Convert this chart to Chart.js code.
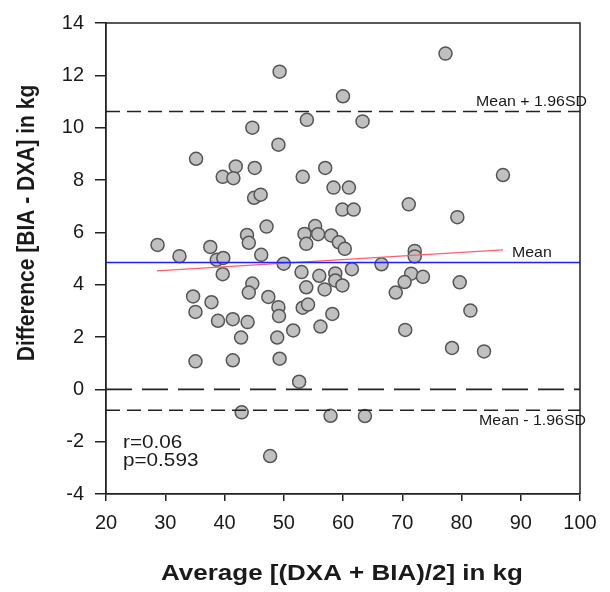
<!DOCTYPE html>
<html>
<head>
<meta charset="utf-8">
<script src="https://cdn.jsdelivr.net/npm/chart.js@4.4.1/dist/chart.umd.min.js"></script>
<style>
  html, body { margin: 0; padding: 0; background: #fff; }
  #wrap { width: 610px; height: 592px; position: relative; }
</style>
</head>
<body>
<div id="wrap"><canvas id="chart"></canvas></div>
<script>
// Bland-Altman data
const avgKg = [
  49.3, 77.3, 60.0, 53.9, 63.3, 44.7, 49.1, 35.2, 41.9, 45.1,
  39.7, 41.5, 53.2, 57.0, 58.4, 61.0, 87.0, 59.9, 61.8, 45.0,
  46.1, 71.1, 79.3, 47.1, 55.3, 53.5, 55.8, 58.0, 53.8, 59.3,
  60.3, 28.7, 32.4, 37.6, 43.8, 44.1, 46.2, 38.7, 39.8, 72.1,
  72.1, 50.0, 66.5, 61.5, 39.7, 53.0, 56.0, 58.7, 58.7, 59.9,
  53.8, 56.9, 71.5, 73.5, 70.4, 68.9, 79.7, 81.5, 70.5, 78.4,
  83.8, 44.7, 44.1, 34.7, 35.1, 37.8, 38.9, 41.4, 43.9, 47.4,
  49.1, 49.2, 53.2, 54.1, 58.2, 56.2, 51.6, 42.8, 48.9, 35.1,
  41.4, 49.3, 52.6, 42.9, 57.9, 63.7, 47.7
];
const diffKg = [
  12.14, 12.83, 11.2, 10.3, 10.24, 10.0, 9.35, 8.81, 8.52, 8.46,
  8.12, 8.07, 8.12, 8.46, 7.71, 7.71, 8.19, 6.87, 6.87, 7.32,
  7.44, 7.07, 6.58, 6.22, 6.24, 5.94, 5.93, 5.88, 5.56, 5.62,
  5.37, 5.52, 5.09, 5.44, 5.90, 5.60, 5.14, 4.95, 5.02, 5.29,
  5.08, 4.80, 4.78, 4.59, 4.40, 4.48, 4.34, 4.43, 4.16, 3.97,
  3.90, 3.82, 4.42, 4.30, 4.10, 3.70, 4.09, 3.01, 2.27, 1.58,
  1.45, 4.04, 3.70, 3.55, 2.96, 3.33, 2.62, 2.68, 2.57, 3.53,
  3.14, 2.80, 3.12, 3.24, 2.88, 2.40, 2.25, 1.98, 1.98, 1.07,
  1.11, 1.17, 0.29, -0.88, -1.01, -1.02, -2.55
];

const xRange = [20, 100];
const yRange = [-4, 14];
const meanDiff = 4.85;
const upperLoA = 10.62;
const lowerLoA = -0.80;
const regX = [28.6, 87.0];
const regY = [4.53, 5.33];

const statR = 'r=0.06';
const statP = 'p=0.593';
const xTitle = 'Average [(DXA + BIA)/2] in kg';
const yTitle = 'Difference [BIA - DXA] in kg';

const points = avgKg.map((x, i) => ({ x: x, y: diffKg[i] }));
const hline = v => [{ x: xRange[0], y: v }, { x: xRange[1], y: v }];

function lineSet(data, color, width, dash) {
  return {
    type: 'scatter', data: data, showLine: true, pointRadius: 0,
    borderColor: color, borderWidth: width, borderDash: dash || [], order: 1
  };
}

function drawText(ctx, txt, x, y, font, sx, align) {
  ctx.save();
  ctx.font = font;
  ctx.fillStyle = '#1a1a1a';
  ctx.textAlign = align;
  ctx.textBaseline = 'alphabetic';
  ctx.translate(x, y);
  ctx.scale(sx, 1);
  ctx.fillText(txt, 0, 0);
  ctx.restore();
}

const FONT = '"Liberation Sans", Arial, sans-serif';

const labelsPlugin = {
  id: 'labels',
  afterDraw(chart) {
    const ctx = chart.ctx;
    const a = chart.chartArea;
    const xs = chart.scales.x, ys = chart.scales.y;

    // top and right frame
    ctx.save();
    ctx.strokeStyle = '#222';
    ctx.lineWidth = 1.5;
    ctx.beginPath();
    ctx.moveTo(a.left, a.top);
    ctx.lineTo(a.right, a.top);
    ctx.lineTo(a.right, a.bottom);
    ctx.stroke();
    ctx.restore();

    drawText(ctx, 'Mean + 1.96SD', a.right + 7, ys.getPixelForValue(upperLoA) - 5, '15px ' + FONT, 1.06, 'right');
    drawText(ctx, 'Mean - 1.96SD', a.right + 6, ys.getPixelForValue(lowerLoA) + 15, '15px ' + FONT, 1.06, 'right');
    drawText(ctx, 'Mean', xs.getPixelForValue(regX[1]) + 9, ys.getPixelForValue(regY[1]) + 7, '15px ' + FONT, 1.06, 'left');

    drawText(ctx, statR, a.left + 17, 448, '18px ' + FONT, 1.15, 'left');
    drawText(ctx, statP, a.left + 17, 466, '18px ' + FONT, 1.15, 'left');

    // axis titles
    drawText(ctx, xTitle, (a.left + a.right) / 2 - 1, 580, 'bold 22px ' + FONT, 1.18, 'center');

    ctx.save();
    ctx.font = 'bold 21px ' + FONT;
    ctx.fillStyle = '#1a1a1a';
    ctx.textAlign = 'center';
    ctx.textBaseline = 'alphabetic';
    ctx.translate(33.5, 223);
    ctx.rotate(-Math.PI / 2);
    ctx.scale(1, 1.1);
    ctx.fillText(yTitle, 0, 0);
    ctx.restore();
  }
};

new Chart(document.getElementById('chart'), {
  type: 'scatter',
  data: {
    datasets: [
      lineSet(hline(meanDiff), '#1f1fff', 1.6),
      lineSet(regX.map((x, i) => ({ x: x, y: regY[i] })), '#ff5c6c', 1.2),
      lineSet(hline(upperLoA), '#222', 1.6, [14, 7]),
      lineSet(hline(0), '#222', 1.6, [26, 10]),
      lineSet(hline(lowerLoA), '#222', 1.6, [14, 7]),
      {
        type: 'scatter', data: points, order: 2,
        pointRadius: 6.5, pointHoverRadius: 6.5,
        backgroundColor: '#c0c0c0', borderColor: '#555', borderWidth: 1.5
      }
    ]
  },
  options: {
    responsive: true,
    maintainAspectRatio: false,
    animation: false,
    layout: { padding: { top: 19, right: 30, left: 0, bottom: 0 } },
    plugins: { legend: { display: false }, tooltip: { enabled: false } },
    scales: {
      x: {
        type: 'linear', min: xRange[0], max: xRange[1],
        afterFit: s => { s.height = 98; },
        grid: { drawOnChartArea: false, drawTicks: true, tickLength: 7, color: '#222', lineWidth: 1.5 },
        border: { display: true, color: '#222', width: 1.8 },
        ticks: { stepSize: 10, padding: 10, color: '#1a1a1a', font: { family: FONT, size: 20 } }
      },
      y: {
        type: 'linear', min: yRange[0], max: yRange[1],
        afterFit: s => { s.width = 106; },
        grid: { drawOnChartArea: false, drawTicks: true, tickLength: 11, color: '#222', lineWidth: 1.5 },
        border: { display: true, color: '#222', width: 1.8 },
        ticks: { stepSize: 2, padding: 11, color: '#1a1a1a', font: { family: FONT, size: 20 } }
      }
    }
  },
  plugins: [labelsPlugin]
});
</script>
</body>
</html>
